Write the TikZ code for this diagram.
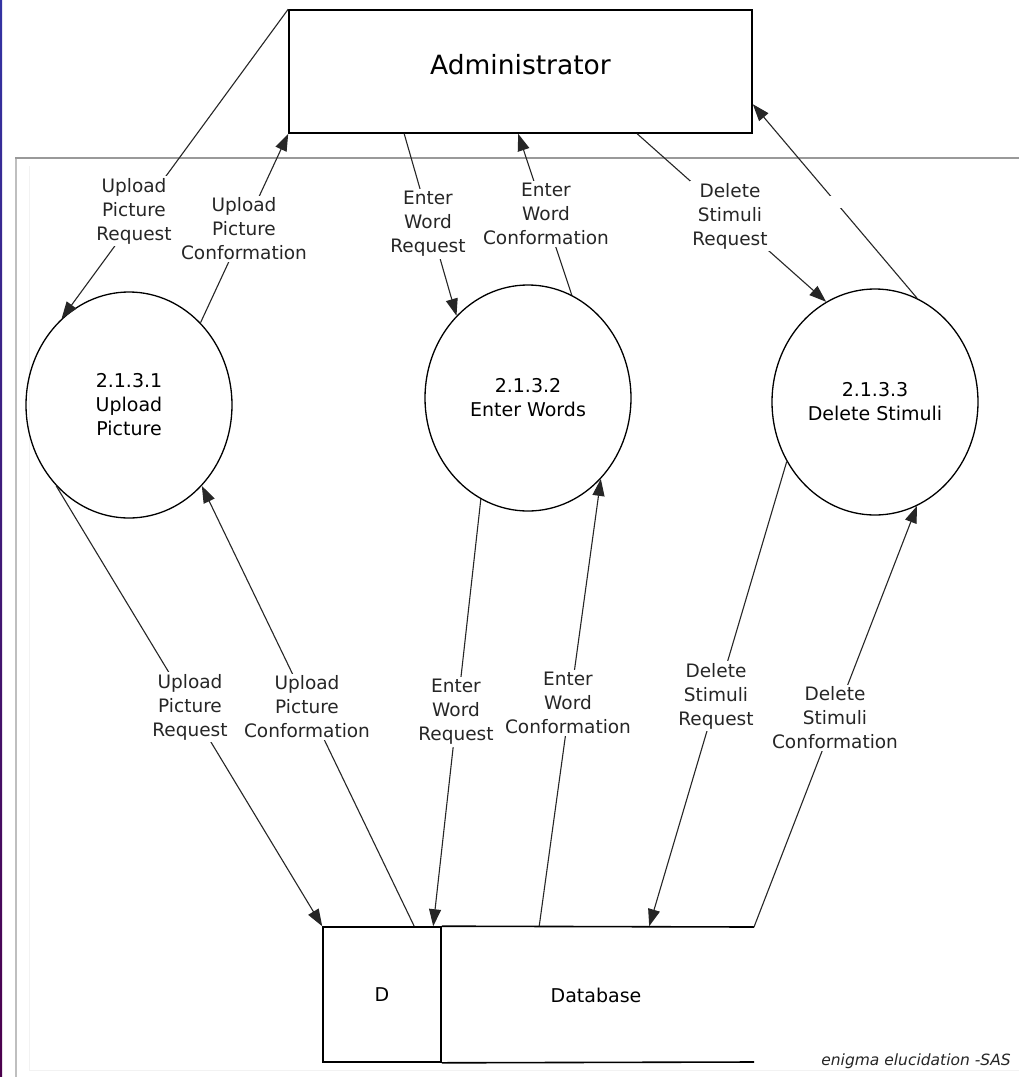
\documentclass[tikz,border=0pt]{standalone}
\usepackage{fontspec}
\setmainfont{DejaVu Sans}
\usetikzlibrary{arrows.meta,shapes.geometric,calc}
\begin{document}
\begin{tikzpicture}[x=1pt,y=-1pt,
  flow/.style={draw=black!85, line width=1.1pt, -{Triangle[length=17pt,width=12pt]}},
  proc/.style={ellipse, draw, line width=1.3pt, minimum width=206pt, minimum height=226pt,
    align=center, inner sep=0pt, font=\fontsize{19}{24}\selectfont},
  lbl/.style={fill=white, align=center, inner sep=2pt, text=black!85,
    font=\fontsize{18.5}{24}\selectfont},
  gap/.style={fill=white, inner sep=0pt, minimum size=12pt},
]
\useasboundingbox (0,0) rectangle (1019,1077);
\fill[white] (0,0) rectangle (1019,1077);

% window edge and outer frame
\shade[top color=blue!55!black!80, bottom color=violet!60!black] (0,0) rectangle (2,1077);
\draw[gray!50, line width=2.5pt] (16,1077) -- (16,158);
\draw[gray!80, line width=1.6pt] (15,158) -- (1019,158);
\draw[gray!10, line width=1pt] (29,166) -- (29,1070) -- (1019,1070);

% external entity
\node[draw, line width=1.6pt, minimum width=463pt, minimum height=123pt, inner sep=0pt]
  (admin) at (520.5,71.5) {\raisebox{15pt}{\fontsize{26.5}{30}\selectfont Administrator}};

% processes
\node[proc] (p1) at (129,405) {2.1.3.1\\Upload\\Picture};
\node[proc] (p2) at (528,398) {2.1.3.2\\Enter Words};
\node[proc] (p3) at (875,402) {2.1.3.3\\Delete Stimuli};

% data store
\node[draw, line width=1.6pt, minimum width=118pt, minimum height=135pt, inner sep=0pt,
  font=\fontsize{19}{24}\selectfont] (dbd) at (382,994.5) {D};
\coordinate (dbtop) at (754,927);
\coordinate (dbbot) at (754,1062);
\draw[line width=1.6pt] (dbd.north east) -- (dbtop);
\draw[line width=1.6pt] (dbd.south east) -- (dbbot);
\node[font=\fontsize{19}{24}\selectfont] (dbname) at (596,995) {Database};

% flows between administrator and processes
\draw[flow] (admin.north west) -- (p1.128);
\draw[flow] (p1.49) -- (admin.south west);
\draw[flow] ($(admin.south west)+(116,0)$) -- (p2.131);
\draw[flow] (p2.67) -- ($(admin.south west)+(230,0)$);
\draw[flow] ($(admin.south west)+(349,0)$) -- (p3.116);
\draw[flow] (p3.68) -- ($(admin.north east)+(0,95)$);

% flows between processes and data store
\draw[flow] (p1.228) -- (dbd.north west);
\draw[flow] ($(dbd.north west)+(92,0)$) -- (p1.312);
\draw[flow] (p2.245) -- ($(dbd.north west)+(111,0)$);
\draw[flow] ($(dbd.north west)+(217,0)$) -- (p2.312);
\draw[flow] (p3.214) -- ($(dbd.north west)+(327,0)$);
\draw[flow] (dbtop) -- (p3.292);

% flow labels
\node[lbl] (l1) at (134,211) {Upload\\Picture\\Request};
\node[lbl] (l2) at (244,229) {Upload\\Picture\\Conformation};
\node[lbl] (l3) at (428,224) {Enter\\Word\\Request};
\node[lbl] (l4) at (546,214) {Enter\\Word\\Conformation};
\node[lbl] (l5) at (730,216) {Delete\\Stimuli\\Request};
\node[gap] (l6) at (836,202) {};
\node[lbl] (l7) at (190,707) {Upload\\Picture\\Request};
\node[lbl] (l8) at (307,707) {Upload\\Picture\\Conformation};
\node[lbl] (l9) at (456,712) {Enter\\Word\\Request};
\node[lbl] (l10) at (568,703) {Enter\\Word\\Conformation};
\node[lbl] (l11) at (716,696) {Delete\\Stimuli\\Request};
\node[lbl] (l12) at (835,718) {Delete\\Stimuli\\Conformation};

% signature
\node[font=\itshape\fontsize{15.5}{18}\selectfont, text=black!85] (sig) at (916,1061) {enigma elucidation -SAS};
\end{tikzpicture}
\end{document}
